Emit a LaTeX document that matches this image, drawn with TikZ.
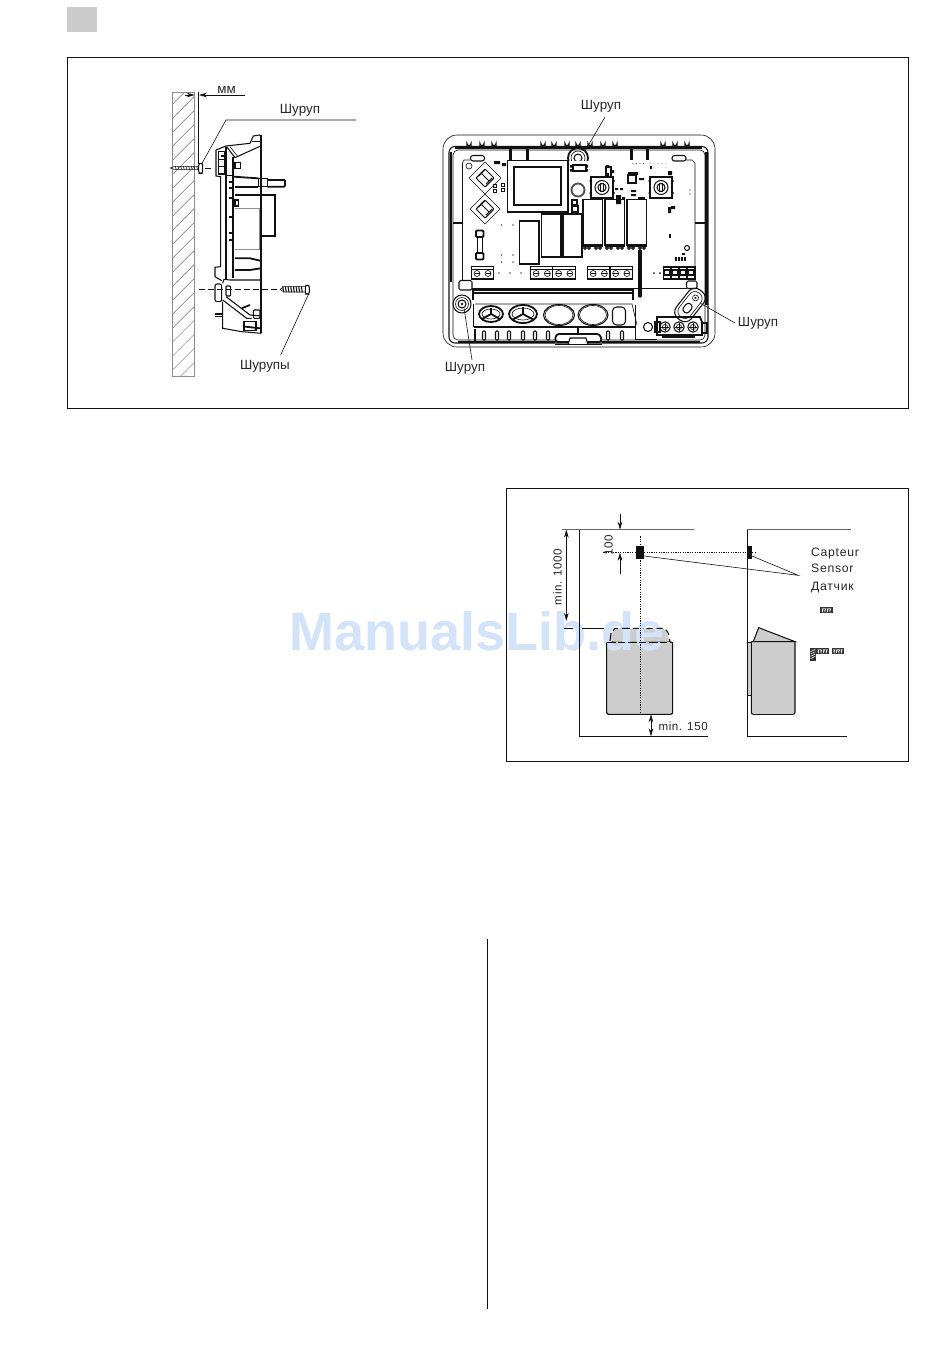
\documentclass[tikz,border=0pt]{standalone}
\usepackage{fontspec}
\setmainfont{Liberation Sans}
\usetikzlibrary{arrows.meta}
\definecolor{ink}{HTML}{111111}
\definecolor{mark}{HTML}{D3E3F9}
\definecolor{heat}{HTML}{CDCDCD}
\tikzset{
 frame/.style={draw=ink,line width=.9pt},
 thin line/.style={draw=ink,line width=.6pt},
 mid line/.style={draw=ink,line width=1.05pt},
 wall line/.style={draw=ink,line width=.8pt},
 thick line/.style={draw=ink,line width=1.8pt},
 hatch line/.style={draw=black!55,line width=.5pt},
 grey line/.style={draw=black!45,line width=.6pt},
 lab/.style={font=\fontsize{13.4}{15}\selectfont,text=black!85,inner sep=0pt},
 senlab/.style={font=\fontsize{12.2}{14}\selectfont\addfontfeatures{LetterSpace=6},text=black!85,inner sep=0pt,anchor=base west},
 dimlab/.style={font=\fontsize{11.6}{13}\selectfont\addfontfeatures{LetterSpace=5},text=black!85,inner sep=0pt},
 arr/.style={-{Stealth[length=8pt,width=4.6pt]}},
 arrs/.style={{Stealth[length=8pt,width=4.6pt]}-{Stealth[length=8pt,width=4.6pt]}},
 solid block/.style={fill=ink,draw=none},
 z/.style={shift={(#1)},x=.3333pt,y=-.3333pt},
}
\begin{document}
\begin{tikzpicture}[x=1pt,y=-1pt]
\useasboundingbox[fill=white] (0,0) rectangle (950,1369);
% page furniture
\fill[black!20] (67,7) rectangle (96.5,32);
\draw[frame] (67.5,57) rectangle (908.6,408);
\draw[frame] (506.5,488) rectangle (908.6,761);
\draw[frame] (487.8,939) -- (487.8,1309);

% ---------- side view
\begin{scope}[z={150,70}]
 \begin{scope}
  \clip (67,66) rectangle (134,918);
  \foreach \k in {0,...,23} \draw[hatch line] (60,{110+\k*42}) -- (140,{30+\k*42});
 \end{scope}
 \draw[grey line] (67,66) rectangle (134,918);
 % dimension
 \draw[thin line] (146,66) -- (146,282);
 \draw[thin line,arr] (105,75) -- (134,75);
 \draw[thin line,arr] (285,75) -- (147,75);
 \node[lab] (mm) at (230,60) {мм};
 % left screw
 \draw[thin line] (60,294) -- (72,290) -- (145,290) (60,294) -- (72,298) -- (145,298);
 \foreach \x in {76,84,...,140} \draw[thin line] (\x,289) -- (\x+3,299);
 \draw[mid line,rounded corners=2pt] (146,280) rectangle (158,310);
 \draw[thin line,dash pattern=on 6pt off 4pt] (165,295) -- (190,295);
 % leader
 \node[lab] (s1) at (450,121) {Шуруп};
 \coordinate (s1a) at (228,150);
 \draw[thin line] (618,150) -- (s1a) -- (155,282);
 % casing outline
 \draw[mid line] (198,240) -- (228,228) -- (300,220) -- (310,198) -- (328,195) -- (334,200);
 \draw[thick line] (334,196) -- (334,790);
 \draw[mid line] (305,215) -- (334,215);
 \draw[mid line] (230,230) -- (255,263) -- (332,228);
 \draw[thin line] (240,230) -- (262,258);
 \draw[mid line] (198,240) -- (198,318) -- (212,320) -- (212,590) -- (195,592) -- (195,620) -- (215,632);
 \draw[mid line] (212,258) -- (228,258);
 \draw[mid line] (205,245) rectangle (225,312);
 \draw[thin line] (205,268) -- (225,268) (205,290) -- (225,290);
 \draw[mid line] (228,232) -- (228,630);
 \draw[thick line] (248,262) -- (248,625);
 \draw[thin line] (230,315) -- (248,315);
 \foreach \y in {335,355,385,440,490,510} \draw[thick line] (238,\y) -- (246,\y);
 \draw[mid line] (255,278) rectangle (272,295);
 \draw[thick line] (250,320) -- (325,325);
 \draw[mid line] (255,390) rectangle (266,408);
 % knob
 \draw[mid line] (325,325) rectangle (352,350);
 \draw[thick line,rounded corners=1pt] (352,330) -- (405,330) -- (405,350) -- (352,350);
 \draw[thick line] (255,352) -- (325,352);
 % transformer
 \draw[thick line] (255,374) -- (376,374) -- (376,497) -- (334,497);
 \draw[grey line,line width=1pt] (255,415) -- (328,415) -- (328,540) -- (255,540);
 % relay lines
 \draw[thick line] (255,565) -- (300,565) -- (330,572);
 \draw[thick line] (255,600) -- (300,600) -- (332,595);
 % lower
 \draw[thin line,dash pattern=on 6pt off 3pt] (147,658) -- (390,658);
 \draw[mid line,rounded corners=2pt] (195,642) rectangle (215,695);
 \draw[mid line,rounded corners=1pt] (228,648) rectangle (242,678);
 \draw[mid line] (218,640) -- (222,628) -- (240,630) -- (334,630);
 \draw[mid line] (218,690) -- (290,745) -- (305,745);
 \draw[mid line] (228,680) -- (300,735) -- (334,738);
 \draw[mid line] (218,695) -- (218,775) -- (275,785) -- (334,790);
 \draw[thick line] (275,715) -- (300,705);
 \draw[mid line,rounded corners=1pt] (310,720) rectangle (330,745);
 \draw[mid line] (195,732) -- (218,732) (195,740) -- (218,740);
 \draw[mid line] (282,755) rectangle (318,782);
 \draw[thick line] (285,770) -- (330,775);
 % right screw
 \draw[thin line] (390,658) -- (402,650) -- (465,650) (390,658) -- (402,666) -- (465,666);
 \foreach \x in {398,406,...,460} \draw[mid line] (\x,649) -- (\x+3,667);
 \draw[mid line,rounded corners=2pt] (466,646) rectangle (478,672);
 \node[lab] (s2) at (345,889) {Шурупы};
 \coordinate (s2a) at (476,672);
 \draw[thin line] (s2a) -- (392,855);
\end{scope}

% ---------- front view
\draw[thin line,rounded corners=14pt] (443,135) rectangle (715,347);
\foreach \x in {469,482,494,543,554,567,578,590,603,615,663,675,687}
  \draw[mid line] (\x-2,147) -- (\x-2,143.5) arc (180:0:2) -- (\x+2,147);
\draw[mid line,rounded corners=6pt] (449,146.5) rectangle (708,343);
\draw[thin line,rounded corners=5pt] (453,150) rectangle (705,340);
\draw[thick line,line width=2.6pt] (451,152) -- (451,282);
\draw[thick line,line width=2.6pt] (706.5,152) -- (706.5,305);
\draw[thick line] (455,148) -- (702,148);
\draw[thick line] (458,342) -- (555,342) (602,342) -- (700,342);
\draw[thick line,line width=2.6pt] (453,223) -- (463,223);
\draw[thick line,line width=2.6pt] (695,223) -- (705,223);
\foreach \x in {510,527,631,647} \draw[thick line,line width=3pt] (\x,148) -- (\x,160);
\foreach \x in {477.5,679} \draw[mid line,fill=white,rounded corners=2.5pt] (\x-7,155.5) rectangle (\x+7,161);
% board
\draw[thin line] (470,160) -- (464,160) -- (462.5,163) -- (462.5,280);
\draw[thin line] (685,160) -- (692,160) -- (695,163) -- (695,280);
\draw[thin line] (472,288) -- (687,288);
\draw[thin line,fill=white] (469,166) circle (3);
% transformer
\draw[thick line,line width=1.1pt] (507.5,160.5) rectangle (568,212);
\draw[thick line,line width=1.1pt] (514,167) rectangle (561,205);
% diamonds
\foreach \cy/\h in {178/16,209/15}{
  \draw[thin line] (485-\h,\cy) -- (485,\cy-\h) -- (485+\h,\cy) -- (485,\cy+\h) -- cycle;
  \draw[mid line,rounded corners=1pt] (485-9,\cy) -- (485,\cy-9) -- (485+9,\cy) -- (485,\cy+9) -- cycle;
  \draw[mid line] (481,\cy-5) -- (489,\cy+3) (478.5,\cy-2) -- (484.5,\cy-8) (486,\cy+6) -- (492,\cy);
}
% small parts left
\fill[ink] (494,161) rectangle (500,164) (502,163) rectangle (506,166);
\foreach \x/\y in {495/186,495/191,503/185,503/190} \draw[mid line] (\x-1.3,\y-1.3) rectangle (\x+1.3,\y+1.3);
% fuse
\draw[thick line,rounded corners=1pt] (476,230.5) rectangle (483.5,237);
\draw[thick line,rounded corners=1pt] (476,253) rectangle (483.5,259.5);
\draw[thin line] (477.5,237) -- (477.5,253) (482,237) -- (482,253);
\foreach \x/\y in {501.5/225,513/225,501.5/255,513/255,501.5/262,513/262,499/273,510/273,521/273}
  \fill[ink!70] (\x,\y) circle (.9);
% relays
\draw[thick line,line width=1.3pt] (519.5,221) rectangle (539,264);
\draw[mid line] (541.5,214) rectangle (561,257);
\draw[mid line] (563,214) rectangle (582,257);
\foreach \x in {583,605,627}{
  \draw[mid line] (\x,199.5) rectangle (\x+19.5,245);
  \draw[thick line] (\x,246) -- (\x+19.5,246);
  \foreach \d in {2,6,13,17} \draw[mid line] (\x+\d,248) circle (1.3);
}
% upper middle parts
\draw[thick line,fill=white,draw=black!70] (578,190) circle (6.5);
\draw[mid line] (573,165) rectangle (586,171);
\fill[ink] (570,165) rectangle (573,167.5) (570,169) rectangle (573,171.5) (586,165) rectangle (588,167.5) (586,169) rectangle (588,171.5);
\draw[mid line] (572,200) rectangle (577,205);
\draw[mid line] (572,206) rectangle (578,212);
\draw[mid line] (606,167) rectangle (611,177);
\fill[ink] (606,165) rectangle (609,168) (606,173) rectangle (609,177) (611,170) rectangle (614,173);
\foreach \cx in {602,661}{
  \draw[mid line] (\cx-11,177) rectangle (\cx+11,198);
  \draw[mid line] (\cx,187.5) circle (7);
  \draw[mid line] (\cx,187.5) circle (4);
  \draw[mid line] (\cx-1.5,183) -- (\cx-1.5,192) (\cx+1.5,183) -- (\cx+1.5,192);
  \fill[ink] (\cx-12.5,180) rectangle (\cx-10.5,182) (\cx+10.5,180) rectangle (\cx+12.5,182) (\cx-12.5,192) rectangle (\cx-10.5,194) (\cx+10.5,192) rectangle (\cx+12.5,194);
}
\fill[ink] (628,172) rectangle (638,175) (639,178) rectangle (644,180) (668,171) rectangle (672,175);
\draw[mid line] (628,175) rectangle (636,183);
\foreach \x in {633,636.5,640,643.5} \fill[ink!70] (\x,163.5) circle (.7);
\foreach \x in {650,654,658,662,666} {\fill[ink!50] (\x,163.5) circle (.5); \fill[ink!50] (\x,167) circle (.5);}
\fill[ink] (650,166) rectangle (652,169);
\fill[ink] (615,188) rectangle (618,190) (620,188) rectangle (623,190) (631,190) rectangle (633,192) (633,190) rectangle (636,192) (631,194) rectangle (636,196);
\fill[ink] (616,195) rectangle (621,204) (622,197) rectangle (625,199);
\fill[ink] (638,197) rectangle (645,199);
\fill[ink] (668,207) rectangle (671,213) (671,206) rectangle (675,209);
\fill[ink] (668.5,234) rectangle (671,238);
\fill[ink] (690,190) circle (.7) (690,194) circle (.7);
\draw[mid line] (687,248) circle (2.5);
\fill[ink] (682,253) rectangle (685,255);
\foreach \x in {675,678,681,684} \fill[ink] (\x,257) rectangle (\x+2,261);
\fill[ink] (654,273) circle (1) (660,273) circle (1);
\draw[draw=ink,line width=3.4pt,line cap=round] (640,251) -- (640,296);
% terminals
\newcommand{\termblock}[4]{% x,y,w,count
 \draw[mid line] (#1,#2) rectangle (#1+#3,#2+13);
 \draw[thin line] (#1,#2+2.5) -- (#1+#3,#2+2.5);
 \draw[thick line] (#1,#2+12) -- (#1+#3,#2+12);
 \foreach \i in {1,...,#4}{
  \draw[thin line] ({#1+(\i-.5)*#3/#4},#2+7) circle (3);
  \draw[thin line] ({#1+(\i-.5)*#3/#4-2.5},#2+7) -- ({#1+(\i-.5)*#3/#4+2.5},#2+7);
 }}
\termblock{471.5}{266.5}{22}{2}
\termblock{530.5}{266.5}{45}{4}
\termblock{587.5}{266.5}{45}{4}
\draw[mid line] (552.5,266.5) -- (552.5,279.5) (610,266.5) -- (610,279.5);
\draw[thick line] (663.5,267) rectangle (695,279);
\foreach \x in {671,679,687} \draw[mid line] (\x,267) -- (\x,279);
\foreach \x in {667,675,683,691} {\draw[mid line] (\x-3,270) rectangle (\x+3,275);}
% corner posts
\draw[mid line,rounded corners=1.5pt] (459,280.5) rectangle (472,290);
\draw[mid line,rounded corners=1.5pt] (686.5,281) rectangle (697,288.5);
% entry zone
\draw[mid line] (473,300) -- (473,290) -- (633,290) -- (633,300);
\draw[thick line,line width=2.5pt] (474,293) -- (632,293);
\draw[thin line] (475,304) -- (632,304) -- (637,325);
\draw[thin line] (473,304) -- (473,327);
\draw[mid line] (474,327) -- (636,327);
\foreach \x/\rx/\ry in {491/12/8,523/14/9}{
 \draw[thick line] (\x,314) ellipse ({\rx} and {\ry});
 \draw[thin line] (\x,314) ellipse ({\rx-3} and {\ry-3});
 \draw[thick line] (\x,314) -- (\x,{314-\ry+2}) (\x,314) -- ({\x-\rx+3},{314+\ry-3}) (\x,314) -- ({\x+\rx-3},{314+\ry-3});
}
\draw[mid line] (559,315) ellipse (15.5 and 10.5);
\draw[thin line] (559,315) ellipse (14 and 9.5);
\draw[mid line] (593,315) ellipse (15 and 10.5);
\draw[thin line] (593,315) ellipse (13.5 and 9.5);
\draw[mid line,rounded corners=4pt] (612.5,307) rectangle (625.5,325);
\foreach \x in {484,497,509,523,535,548,608,622}
  \draw[mid line,rounded corners=1pt] (\x-1.5,331) rectangle (\x+1.5,340);
\draw[thick line] (475,329) -- (475,342);
\draw[thick line,rounded corners=3pt,fill=white] (555,342) -- (556,334) -- (600,334) -- (602,342) -- cycle;
\draw[mid line,fill=white] (568,345) -- (570,338) -- (586,338) -- (588,345);
\draw[thin line] (555,344.5) -- (602,344.5);
\draw[thick line] (578,327) -- (578,333);
% screws
\foreach \r/\s in {9/mid line,6.5/thin line,4/mid line} \draw[\s] (462,304) circle (\r);
\fill[ink] (462,304) circle (1.4);
\begin{scope}
 \clip (565,149) rectangle (592,160);
 \foreach \r/\s in {10/thick line,7/thin line,4/mid line} \draw[\s] (578,158) circle (\r);
\end{scope}
% slotted mount
\begin{scope}[shift={(690,305)},rotate=52]
 \draw[mid line,rounded corners=8pt] (-18,-9.5) rectangle (18,9.5);
 \draw[thin line,rounded corners=6.5pt] (-15,-7) rectangle (15,7);
 \draw[mid line,rounded corners=3pt] (-9,-3.5) rectangle (1,3.5);
 \draw[thin line] (9,0) circle (3);
 \fill[ink] (9,0) circle (1.2);
\end{scope}
% terminal block
\draw[thin line] (635,305) -- (635,339) -- (657,339);
\draw[thick line] (657,319) -- (657,317) -- (700,317) -- (702,322) -- (702,335) -- (657,335) -- cycle;
\draw[mid line] (648,327) circle (4.5);
\draw[mid line] (655,322) rectangle (660,332);
\draw[mid line] (702,323) rectangle (707,333);
\foreach \x in {665,679,693}{
 \draw[mid line] (\x,327) circle (5.2);
 \draw[thin line] (\x,327) circle (2.6);
 \draw[thin line] (\x-4,327) -- (\x+4,327) (\x,323) -- (\x,331);
}
\draw[thick line] (662,337) -- (695,337);
% labels and leaders
\node[lab] (s3) at (601,106) {Шуруп};
\coordinate (s3a) at (585,151);
\draw[thin line] (s3a) -- (605,117);
\node[lab] (s4) at (465,368) {Шуруп};
\coordinate (s4a) at (464,308);
\draw[thin line] (s4a) -- (472,360);
\node[lab] (s5) at (758,323) {Шуруп};
\coordinate (s5a) at (700,303);
\draw[thin line] (s5a) -- (735,323);

% ---------- sensor diagram
\begin{scope}[z={510,495}]
 \draw[thin line,fill=heat,rounded corners=2pt] (290,440) -- (290,658) -- (488,658) -- (488,440) -- cycle;
 \fill[heat,rounded corners=3pt] (303,440) -- (303,415) -- (315,400) -- (465,400) -- (480,440) -- cycle;
 \fill[heat] (724,440) -- (730,440) -- (746,398) -- (855,440) -- (855,655) -- (724,655) -- cycle;
\end{scope}
% watermark
\node[inner sep=0pt,font=\fontsize{54}{58}\selectfont\bfseries,text=mark] (wm) at (477,631) {ManualsLib.de};
\begin{scope}[z={510,495}]
 \draw[mid line,dash pattern=on 8pt off 3pt on 6pt off 4pt] (300,438) -- (303,415) -- (315,400) -- (400,400);
 \draw[mid line,dash pattern=on 6pt off 4pt] (410,400) -- (465,400) -- (475,415) -- (480,440);
 \draw[mid line,rounded corners=2pt] (290,443) -- (290,658) -- (488,658) -- (488,443);
 \draw[mid line,dash pattern=on 9pt off 2pt on 7pt off 3pt] (290,443) -- (488,443);
 \draw[mid line,rounded corners=2pt] (724,440) -- (724,658) -- (855,658) -- (855,440);
 \draw[mid line] (724,440) -- (855,440) -- (746,398) -- (730,440);
 \draw[wall line,fill=heat] (713,441) rectangle (724,600);
 \draw[wall line,draw=black!60] (155,104) -- (552,104);
 \draw[wall line,draw=black!60] (711,104) -- (1024,104);
 \draw[wall line] (207,104) -- (207,724) -- (594,724);
 \draw[wall line] (711,104) -- (711,724) -- (1010,724);
 \draw[wall line] (215,400) -- (282,400);
 \draw[wall line] (163,400) -- (190,400);
 \draw[thin line,arrs] (169,104) -- (169,378);
 \draw[thin line,arr] (330,58) -- (330,104);
 \draw[thin line,arr] (330,237) -- (330,173);
 \draw[thin line,dash pattern=on 1.2pt off 1.2pt] (280,173) -- (735,173);
 \draw[thin line,dash pattern=on 1.2pt off 1.2pt] (391,124) -- (391,660);
 \fill[solid block] (378,154) rectangle (402,191);
 \fill[solid block] (711,154) rectangle (726,191);
 \coordinate (tip) at (865,241);
 \draw[thin line] (402,183) -- (tip) -- (726,183);
 \draw[thin line,arrs] (423,658) -- (423,724);
 \node[dimlab,anchor=base west] (m150) at (445,706) {min. 150};
 \node[dimlab,rotate=90,anchor=base] (m1000) at (155,246) {min. 1000};
 \node[dimlab,rotate=90,anchor=base] (d100) at (308,150) {100};
 \node[senlab] (c1) at (903,183) {Capteur};
 \node[senlab] (c2) at (903,233) {Sensor};
 \node[senlab] (c3) at (903,285) {Датчик};
 \foreach \a/\b/\c in {931/337/968,918/460/958,966/460/1002}{
   \fill[ink!85] (\a,\b) rectangle (\c,\b+17);
   \foreach \k in {1,2,3,4}
     \draw[white,line width=.55pt] ({\a+\k*(\c-\a)/5-2},\b+3) -- ++(2,6) -- ++(2,-6) (({\a+\k*(\c-\a)/5-2},\b+9) -- ++(2,6);
 }
 \fill[ink!85] (900,460) rectangle (918,498);
 \foreach \k in {1,2,3,4} \draw[white,line width=.55pt] (902,{460+\k*7+3}) -- (916,{460+\k*7-4});
\end{scope}
\end{tikzpicture}
\end{document}
